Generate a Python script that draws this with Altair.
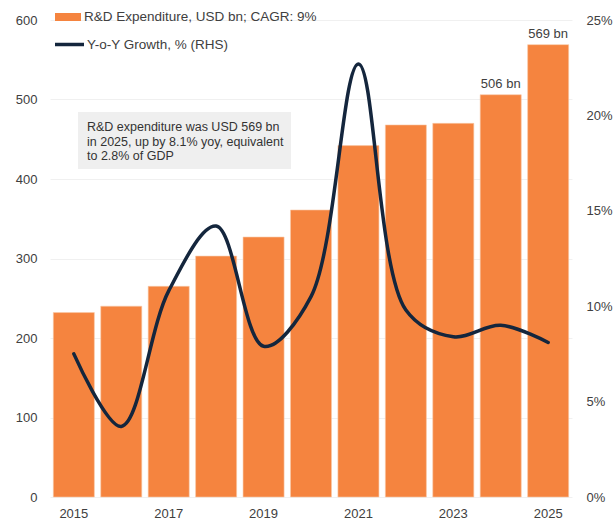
import altair as alt
import pandas as pd

years = ["2015", "2016", "2017", "2018", "2019", "2020", "2021", "2022", "2023", "2024", "2025"]
rd_usd_bn = [232, 240, 265, 303, 327, 361, 442, 468, 470, 506, 569]
yoy_pct = [7.5, 3.7, 10.8, 14.2, 7.9, 10.5, 22.7, 9.8, 8.4, 9.0, 8.1]
bar_labels = ["", "", "", "", "", "", "", "", "", "506 bn", "569 bn"]
x_tick_labels = ["2015", "2017", "2019", "2021", "2023", "2025"]
left_ticks = [0, 100, 200, 300, 400, 500, 600]
right_ticks = [0, 5, 10, 15, 20, 25]
series_bar = "R&D Expenditure, USD bn; CAGR: 9%"
series_line = "Y-o-Y Growth, % (RHS)"
note_lines = ["R&D expenditure was USD 569 bn",
              "in 2025, up by 8.1% yoy, equivalent",
              "to 2.8% of GDP"]

df = pd.DataFrame({
    "year": years,
    "rd": rd_usd_bn,
    "yoy": yoy_pct,
    "label": bar_labels,
    "s1": [series_bar] * len(years),
    "s2": [series_line] * len(years),
})

FONT = "Liberation Sans"
ORANGE = "#F5843F"
NAVY = "#14263D"
TXT = "#404040"

x_enc = alt.X(
    "year:O", title=None, sort=None,
    scale=alt.Scale(paddingInner=0.135, paddingOuter=0.07),
    axis=alt.Axis(values=x_tick_labels, labelAngle=0, domain=False, ticks=False,
                  labelPadding=10, labelFont=FONT, labelFontSize=13, labelColor=TXT),
)

y_left = alt.Y(
    "rd:Q", title=None,
    scale=alt.Scale(domain=[0, 600], nice=False),
    axis=alt.Axis(values=left_ticks, grid=True, gridColor="#f0f0f0", gridWidth=1,
                  domain=False, ticks=False, labelPadding=13, labelFont=FONT,
                  labelFontSize=13, labelColor=TXT),
)

bars = alt.Chart(df).mark_bar(stroke="#f9c9a8", strokeWidth=0.6).encode(
    x=x_enc,
    y=y_left,
    fill=alt.Fill("s1:N", title=None, scale=alt.Scale(range=[ORANGE]),
                  legend=alt.Legend(orient="none", legendX=5, legendY=-16,
                                    symbolType="M-1,-0.31H1V0.31H-1Z", symbolSize=676,
                                    symbolStrokeWidth=0, labelFont=FONT, labelFontSize=13.5,
                                    labelColor=TXT, labelOffset=3, labelLimit=500, padding=0)),
)

bar_text = alt.Chart(df).mark_text(
    baseline="bottom", dy=-4, font=FONT, fontSize=13, color=TXT
).encode(x=x_enc, y=y_left, text="label:N")

note_box = alt.Chart(pd.DataFrame({"k": [0]})).mark_rect(color="#efefef").encode(
    x=alt.value(28), x2=alt.value(241), y=alt.value(92), y2=alt.value(149)
)
note_text = alt.Chart(pd.DataFrame({"k": [0]})).mark_text(
    align="left", baseline="top", font=FONT, fontSize=12.5, color="#333333", lineHeight=14.5
).encode(x=alt.value(37), y=alt.value(101), text=alt.value(note_lines))

left = alt.layer(note_box, note_text, bars, bar_text)

line = alt.Chart(df).mark_line(interpolate="catmull-rom", strokeWidth=3.5, strokeCap="round").encode(
    x=x_enc,
    y=alt.Y("yoy:Q", title=None, scale=alt.Scale(domain=[0, 25], nice=False),
            axis=alt.Axis(orient="right", values=right_ticks, labelExpr="datum.value + '%'",
                          grid=False, domain=False, ticks=False, labelPadding=14,
                          labelFont=FONT, labelFontSize=13, labelColor=TXT)),
    stroke=alt.Stroke("s2:N", title=None, scale=alt.Scale(range=[NAVY]),
                      legend=alt.Legend(orient="none", legendX=3, legendY=8,
                                        symbolType="stroke", symbolSize=841,
                                        symbolStrokeWidth=3.5, labelFont=FONT,
                                        labelFontSize=13.5, labelColor=TXT, labelOffset=1,
                                        labelLimit=500, padding=0)),
)

chart = alt.layer(left, line).resolve_scale(y="independent", fill="independent", stroke="independent").properties(
    width=522, height=477,
    padding={"left": 50, "top": 20, "right": 42, "bottom": 28},
    autosize=alt.AutoSizeParams(type="none"),
).configure_view(stroke=None)

chart.save("out.html", embed_options={"renderer": "svg", "actions": False})
